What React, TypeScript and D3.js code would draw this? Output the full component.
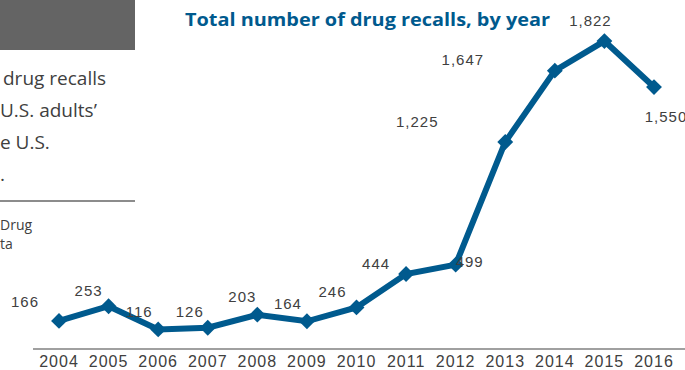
import React from "react";
import * as d3 from "d3";

const years = ["2004","2005","2006","2007","2008","2009","2010","2011","2012","2013","2014","2015","2016"];
const recalls = [166, 253, 116, 126, 203, 164, 246, 444, 499, 1225, 1647, 1822, 1550];
const labelText = ["166","253","116","126","203","164","246","444","499","1,225","1,647","1,822","1,550"];
// manual data-label offsets (dx, dy) relative to each point
const labelDx = [-34, -20, -19, -18, -15, -19, -24, -30, 14, -88, -92, -14, 12];
const labelDy = [-14, -10, -12, -11, -13, -12, -10, -5, 2, -15, -6, -15, 35];
const sideLines = ["drug recalls", "U.S. adults\u2019", "e U.S.", "."];
const sourceLines = ["Drug", "ta"];
const title = "Total number  of drug recalls, by year";

const W = 685, H = 370;
const BLUE = "#005a8e";
const GRAY_TEXT = "#404040";

export default function App() {
  const x = d3.scalePoint<string>().domain(years).range([59, 654]).padding(0);
  const y = d3.scaleLinear().domain([0, 2000]).range([349, 11]);
  const line = d3.line<number>().x((_, i) => x(years[i])!).y((d) => y(d));
  const diamond = d3.symbol().type(d3.symbolDiamond2).size(160)();

  return (
    <svg width={W} height={H} style={{ position: "absolute", left: 0, top: 0, background: "#fff" }}>
      <rect x={0} y={0} width={135} height={50} fill="#646464" />
      {sideLines.map((t, i) => (
        <text key={t} x={i === 0 ? 3 : 0} y={85 + i * 32} fontFamily="Open Sans, sans-serif" fontSize={19} fill={GRAY_TEXT}>{t}</text>
      ))}
      <line x1={0} x2={135} y1={201} y2={201} stroke="#8c8c8c" strokeWidth={2} />
      {sourceLines.map((t, i) => (
        <text key={t} x={0} y={230 + i * 19} fontFamily="Open Sans, sans-serif" fontSize={14} fill={GRAY_TEXT}>{t}</text>
      ))}
      <text x={185} y={26} fontFamily="Open Sans, sans-serif" fontWeight="bold" fontSize={17} fill={BLUE} textLength={365} lengthAdjust="spacingAndGlyphs">{title}</text>
      <line x1={33} x2={W} y1={349} y2={349} stroke="#a0a0a0" strokeWidth={2} />
      {years.map((yr) => (
        <text key={yr} x={x(yr)} y={367} textAnchor="middle" fontFamily="Liberation Sans, Arial, sans-serif" fontSize={16} letterSpacing={1} fill={GRAY_TEXT}>{yr}</text>
      ))}
      <path d={line(recalls)!} fill="none" stroke={BLUE} strokeWidth={6} strokeLinejoin="miter" />
      {recalls.map((v, i) => (
        <path key={i} d={diamond!} transform={`translate(${x(years[i])},${y(v)})`} fill={BLUE} />
      ))}
      {recalls.map((v, i) => (
        <text key={"l" + i} x={x(years[i])! + labelDx[i]} y={y(v) + labelDy[i]} textAnchor="middle" fontFamily="Liberation Sans, Arial, sans-serif" fontSize={15} letterSpacing={1} fill={GRAY_TEXT}>{labelText[i]}</text>
      ))}
    </svg>
  );
}
